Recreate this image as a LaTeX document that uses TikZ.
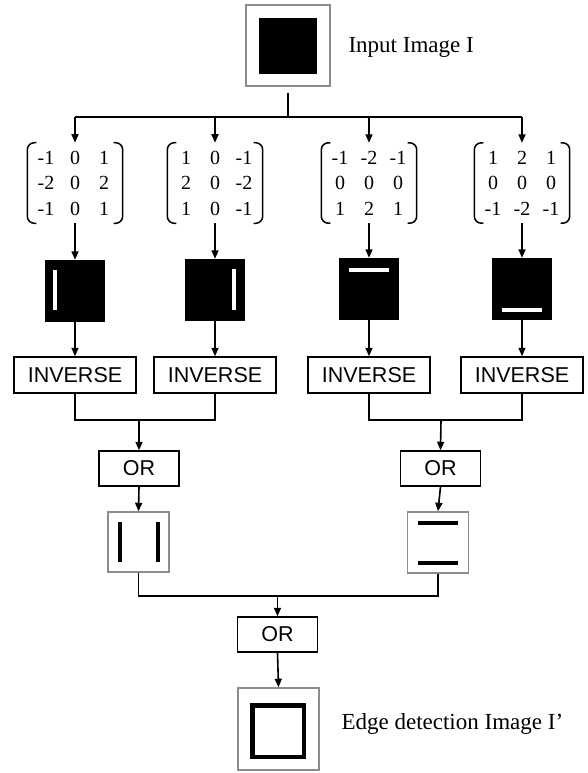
\documentclass[tikz,border=0pt]{standalone}
\usepackage{fontspec}
\setmainfont{Liberation Serif}
\newfontfamily\labelsans{Liberation Sans}
\usetikzlibrary{arrows.meta,matrix}
\definecolor{framegray}{HTML}{8C8C8C}
\begin{document}
\begin{tikzpicture}[x=1pt,y=-1pt,
  wire/.style={line width=1.6pt},
  arr/.style={wire,-{Triangle[length=8.5pt,width=7pt]}},
  opbox/.style={draw,line width=1.5pt,rectangle,inner sep=0pt,minimum height=36pt,
    font=\labelsans\fontsize{21.5}{21.5}\selectfont},
  picframe/.style={draw=framegray,line width=1.5pt,rectangle,inner sep=0pt},
  blackpic/.style={fill=black,rectangle,inner sep=0pt,minimum width=60pt,minimum height=62pt},
  kernel/.style={matrix of nodes,inner xsep=5pt,inner ysep=2pt,column sep=2pt,row sep=0.5pt,
    nodes={inner sep=0pt,minimum width=27pt,minimum height=25pt,
      font=\fontsize{20}{20}\selectfont}},
  paren/.style={line width=1.5pt,rounded corners=7pt},
  caption/.style={anchor=west,font=\fontsize{23}{26}\selectfont}
]
\useasboundingbox (0,0) rectangle (587,773);

% input image
\node[picframe,minimum width=84pt,minimum height=81pt] (inp) at (288,45.5) {};
\fill (259,18) rectangle (317,74);
\node[caption] (inlbl) at (345,47) {Input Image I};

% distribution line
\coordinate (split) at (288,117);
\coordinate (t1) at (75,117);
\coordinate (t2) at (215,117);
\coordinate (t3) at (369,117);
\coordinate (t4) at (522,117);

% Sobel kernels
\matrix (m1) [kernel] at (75,183) {-1 & 0 & 1\\ -2 & 0 & 2\\ -1 & 0 & 1\\};
\matrix (m2) [kernel] at (215,183) {1 & 0 & -1\\ 2 & 0 & -2\\ 1 & 0 & -1\\};
\matrix (m3) [kernel] at (369,183) {-1 & -2 & -1\\ 0 & 0 & 0\\ 1 & 2 & 1\\};
\matrix (m4) [kernel] at (522,183) {1 & 2 & 1\\ 0 & 0 & 0\\ -1 & -2 & -1\\};
\foreach \m in {m1,m2,m3,m4}{
  \draw[paren] ([xshift=9pt]\m.north west) -- (\m.north west) -- (\m.south west) -- ([xshift=9pt]\m.south west);
  \draw[paren] ([xshift=-9pt]\m.north east) -- (\m.north east) -- (\m.south east) -- ([xshift=-9pt]\m.south east);
}

% filtered images
\node[blackpic] (b1) at (75,291) {};
\node[blackpic] (b2) at (215,290) {};
\node[blackpic] (b3) at (369,289) {};
\node[blackpic] (b4) at (522,289) {};
\fill[white] (53,270) rectangle (57,310);
\fill[white] (232,269) rectangle (236,310);
\fill[white] (349,268) rectangle (389,271.5);
\fill[white] (502,308) rectangle (542,311.5);

% inverse operators
\node[opbox,minimum width=122pt] (i1) at (75,375) {INVERSE};
\node[opbox,minimum width=122pt] (i2) at (215,375) {INVERSE};
\node[opbox,minimum width=122pt] (i3) at (369,375) {INVERSE};
\node[opbox,minimum width=122pt] (i4) at (522,375) {INVERSE};

% OR operators
\node[opbox,minimum width=80pt,minimum height=35pt] (o1) at (139,468.5) {OR};
\node[opbox,minimum width=80pt,minimum height=35pt] (o2) at (440.5,468.5) {OR};
\coordinate (j1) at (139,420);
\coordinate (j2) at (441,420);

% combined edge images
\node[picframe,minimum width=61pt,minimum height=60pt] (g1) at (138.5,542) {};
\draw[line width=4pt] (119.5,522) -- (119.5,562);
\draw[line width=4pt] (158,522) -- (158,562);
\node[picframe,minimum width=61pt,minimum height=61pt] (g2) at (438,542.5) {};
\draw[line width=3.5pt] (418,523) -- (458,523);
\draw[line width=3.5pt] (418,563) -- (458,563);

% final OR and result
\coordinate (j3) at (277.5,596);
\node[opbox,minimum width=80pt,minimum height=35pt] (o3) at (277.5,634.5) {OR};
\node[picframe,minimum width=81pt,minimum height=82pt] (out) at (278.5,729) {};
\draw[line width=4.5pt] (252.25,705.25) rectangle (303.75,756.75);
\node[caption] (outlbl) at (338,724) {Edge detection Image I’};

% connectors
\draw[wire] (t1) -- (split);
\draw[wire,line width=2.2pt] ([yshift=-6pt]inp.south) -- (split) -- (t4);
\foreach \i in {1,...,4}{
  \draw[arr] (t\i) -- (m\i.north);
  \draw[arr] (m\i.south) -- (b\i.north);
  \draw[arr] (b\i.south) -- (i\i.north);
}
\draw[wire] (i1.south) |- (j1) -| (i2.south);
\draw[wire] (i3.south) |- (j2) -| (i4.south);
\draw[arr] (j1) -- (o1.north);
\draw[arr] (j2) -- (o2.north);
\draw[arr] (o1.south) -- (g1.north);
\draw[arr] (o2.south) -- (g2.north);
\draw[wire] (g1.south) |- (j3) -| (g2.south);
\draw[arr] (j3) -- (o3.north);
\draw[arr] (o3.south) -- (out.north);
\end{tikzpicture}
\end{document}
